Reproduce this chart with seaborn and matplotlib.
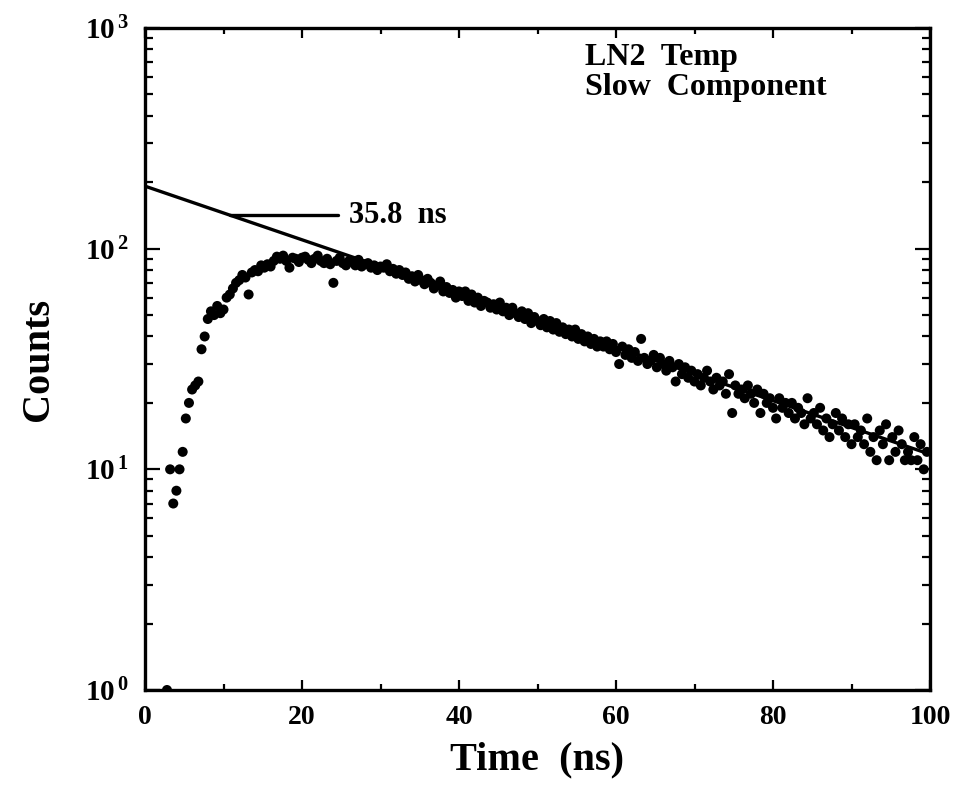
import matplotlib
matplotlib.use("Agg")
import matplotlib.pyplot as plt
import seaborn as sns
import pandas as pd
from matplotlib.ticker import FixedLocator, FixedFormatter, LogLocator, NullFormatter

# ---------------- data ----------------
time_ns = [
    2.8, 3.2, 3.6, 4.0, 4.4, 4.8, 5.2, 5.6, 6.0, 6.4,
    6.8, 7.2, 7.6, 8.0, 8.4, 8.8, 9.2, 9.6, 10.0, 10.4,
    10.8, 11.2, 11.6, 12.0, 12.4, 12.8, 13.2, 13.6, 14.0, 14.4,
    14.8, 15.2, 15.6, 16.0, 16.4, 16.8, 17.2, 17.6, 18.0, 18.4,
    18.8, 19.2, 19.6, 20.0, 20.4, 20.8, 21.2, 21.6, 22.0, 22.4,
    22.8, 23.2, 23.6, 24.0, 24.4, 24.8, 25.2, 25.6, 26.0, 26.4,
    26.8, 27.2, 27.6, 28.0, 28.4, 28.8, 29.2, 29.6, 30.0,
    30.4, 30.8, 31.2, 31.6, 32.0, 32.4, 32.8, 33.2, 33.6, 34.0,
    34.4, 34.8, 35.2, 35.6, 36.0, 36.4, 36.8, 37.2, 37.6, 38.0,
    38.4, 38.8, 39.2, 39.6, 40.0, 40.4, 40.8, 41.2, 41.6, 42.0,
    42.4, 42.8, 43.2, 43.6, 44.0, 44.4, 44.8, 45.2, 45.6, 46.0,
    46.4, 46.8, 47.2, 47.6, 48.0, 48.4, 48.8, 49.2, 49.6, 50.0,
    50.4, 50.8, 51.2, 51.6, 52.0, 52.4, 52.8, 53.2, 53.6, 54.0,
    54.4, 54.8, 55.2, 55.6, 56.0, 56.4, 56.8, 57.2, 57.6, 58.0,
    58.4, 58.8, 59.2, 59.6, 60.0, 60.4, 60.8, 61.2, 61.6, 62.0,
    62.4, 62.8, 63.2, 63.6, 64.0, 64.4, 64.8, 65.2, 65.6, 66.0,
    66.4, 66.8, 67.2, 67.6, 68.0, 68.4, 68.8, 69.2, 69.6, 70.0,
    70.4, 70.8, 71.2, 71.6, 72.0, 72.4, 72.8, 73.2, 73.6, 74.0,
    74.4, 74.8, 75.2, 75.6, 76.0, 76.4, 76.8, 77.2, 77.6, 78.0,
    78.4, 78.8, 79.2, 79.6, 80.0, 80.4, 80.8, 81.2, 81.6, 82.0,
    82.4, 82.8, 83.2, 83.6, 84.0, 84.4, 84.8, 85.2, 85.6, 86.0,
    86.4, 86.8, 87.2, 87.6, 88.0, 88.4, 88.8, 89.2, 89.6, 90.0,
    90.4, 90.8, 91.2, 91.6, 92.0, 92.4, 92.8, 93.2, 93.6, 94.0,
    94.4, 94.8, 95.2, 95.6, 96.0, 96.4, 96.8, 97.2, 97.6, 98.0,
    98.4, 98.8, 99.2, 99.6,
]
counts = [
    1, 10, 7, 8, 10, 12, 17, 20, 23, 24,
    25, 35, 40, 48, 52, 50, 55, 51, 53, 60,
    62, 66, 70, 72, 76, 74, 62, 78, 80, 79,
    84, 82, 85, 83, 88, 92, 90, 93, 88, 82,
    91, 90, 87, 91, 92, 89, 86, 90, 93, 88,
    86, 90, 85, 70, 88, 91, 86, 84, 88, 87,
    84, 89, 83, 85, 86, 82, 84, 80, 83,
    82, 85, 79, 81, 77, 80, 76, 78, 73, 75,
    71, 76, 72, 69, 73, 70, 66, 68, 71, 64,
    67, 63, 65, 60, 64, 61, 64, 58, 62, 57,
    60, 55, 58, 57, 54, 56, 53, 57, 52, 54,
    50, 54, 51, 49, 52, 48, 51, 46, 49, 47,
    45, 48, 44, 47, 43, 46, 42, 44, 41, 43,
    40, 43, 39, 41, 38, 40, 37, 39, 36, 38,
    36, 38, 35, 37, 34, 30, 36, 33, 35, 32,
    34, 31, 39, 32, 30, 31, 33, 29, 32, 30,
    28, 31, 29, 25, 30, 27, 29, 26, 28, 25,
    27, 24, 26, 28, 25, 23, 26, 24, 25, 22,
    27, 18, 24, 22, 23, 21, 24, 22, 20, 23,
    18, 22, 20, 21, 19, 17, 21, 19, 20, 18,
    20, 17, 19, 18, 16, 21, 17, 18, 16, 19,
    15, 17, 14, 16, 18, 15, 17, 14, 16, 13,
    16, 14, 15, 13, 17, 12, 14, 11, 15, 13,
    16, 11, 14, 12, 15, 13, 11, 12, 11, 14,
    11, 13, 10, 12,
]

# exponential fit (straight line on log axis), endpoints
fit_time = [0, 100]
fit_counts = [192, 11.7]

# annotation pointer
pointer_time = [10.8, 24.6]
pointer_counts = [142, 142]
fit_label = "35.8  ns"
title_lines = ["LN2  Temp", "Slow  Component"]

x_ticks = [0, 20, 40, 60, 80, 100]
x_tick_labels = ["0", "20", "40", "60", "80", "100"]
y_ticks = [1, 10, 100, 1000]
y_tick_labels = [r"$\mathbf{10^{\,0}}$", r"$\mathbf{10^{\,1}}$",
                 r"$\mathbf{10^{\,2}}$", r"$\mathbf{10^{\,3}}$"]
x_label = "Time  (ns)"
y_label = "Counts"

# ---------------- styling ----------------
sns.set_theme(style="ticks")
plt.rcParams["font.family"] = ["Liberation Serif", "DejaVu Serif"]
plt.rcParams["font.weight"] = "bold"
plt.rcParams["mathtext.fontset"] = "custom"
plt.rcParams["mathtext.rm"] = "Liberation Serif:bold"
plt.rcParams["mathtext.bf"] = "Liberation Serif:bold"
plt.rcParams["mathtext.it"] = "Liberation Serif:bold"
for key in ["text.color", "axes.labelcolor", "xtick.color", "ytick.color",
            "axes.edgecolor"]:
    plt.rcParams[key] = "black"

df = pd.DataFrame({"Time": time_ns, "Counts": counts})
fit_df = pd.DataFrame({"Time": fit_time, "Counts": fit_counts})
ptr_df = pd.DataFrame({"Time": pointer_time, "Counts": pointer_counts})

fig = plt.figure(figsize=(9.57, 7.87), dpi=100)
ax = fig.add_axes([145 / 957, 1 - 690 / 787, 785 / 957, 662 / 787])
ax.set_yscale("log")

sns.lineplot(data=fit_df, x="Time", y="Counts", ax=ax, color="black",
             linewidth=2.4, estimator=None, sort=False)
sns.lineplot(data=ptr_df, x="Time", y="Counts", ax=ax, color="black",
             linewidth=2.4, estimator=None, sort=False)
sns.scatterplot(data=df, x="Time", y="Counts", ax=ax, color="black",
                s=52, edgecolor="none", linewidth=0, clip_on=True)

ax.set_xlim(0, 100)
ax.set_ylim(1, 1000)

ax.xaxis.set_major_locator(FixedLocator(x_ticks))
ax.xaxis.set_major_formatter(FixedFormatter(x_tick_labels))
ax.xaxis.set_minor_locator(FixedLocator([10, 30, 50, 70, 90]))
ax.yaxis.set_major_locator(FixedLocator(y_ticks))
ax.yaxis.set_major_formatter(FixedFormatter(y_tick_labels))
ax.yaxis.set_minor_locator(LogLocator(base=10, subs=range(2, 10)))
ax.yaxis.set_minor_formatter(NullFormatter())

ax.tick_params(axis="both", which="both", direction="in", top=True, right=True,
               width=1.6, color="black")
ax.tick_params(axis="x", which="major", length=7, pad=11, labelsize=20)
ax.tick_params(axis="x", which="minor", length=4.5)
ax.tick_params(axis="y", which="major", length=11, pad=12, labelsize=21)
ax.tick_params(axis="y", which="minor", length=6)
for lab in ax.get_xticklabels():
    lab.set_fontweight("bold")

for sp in ax.spines.values():
    sp.set_linewidth(2.4)
    sp.set_color("black")

ax.set_xlabel(x_label, fontsize=29, fontweight="bold", labelpad=8)
ax.set_ylabel(y_label, fontsize=29, fontweight="bold", labelpad=20)

ax.text(26.0, 142, fit_label, fontsize=22, fontweight="bold",
        va="center", ha="left")
ax.text(0.5605, 0.944, title_lines[0], transform=ax.transAxes, fontsize=23,
        fontweight="bold", va="baseline", ha="left")
ax.text(0.5605, 0.899, title_lines[1], transform=ax.transAxes, fontsize=23,
        fontweight="bold", va="baseline", ha="left")

fig.savefig("out.png", dpi=100, facecolor="white")
